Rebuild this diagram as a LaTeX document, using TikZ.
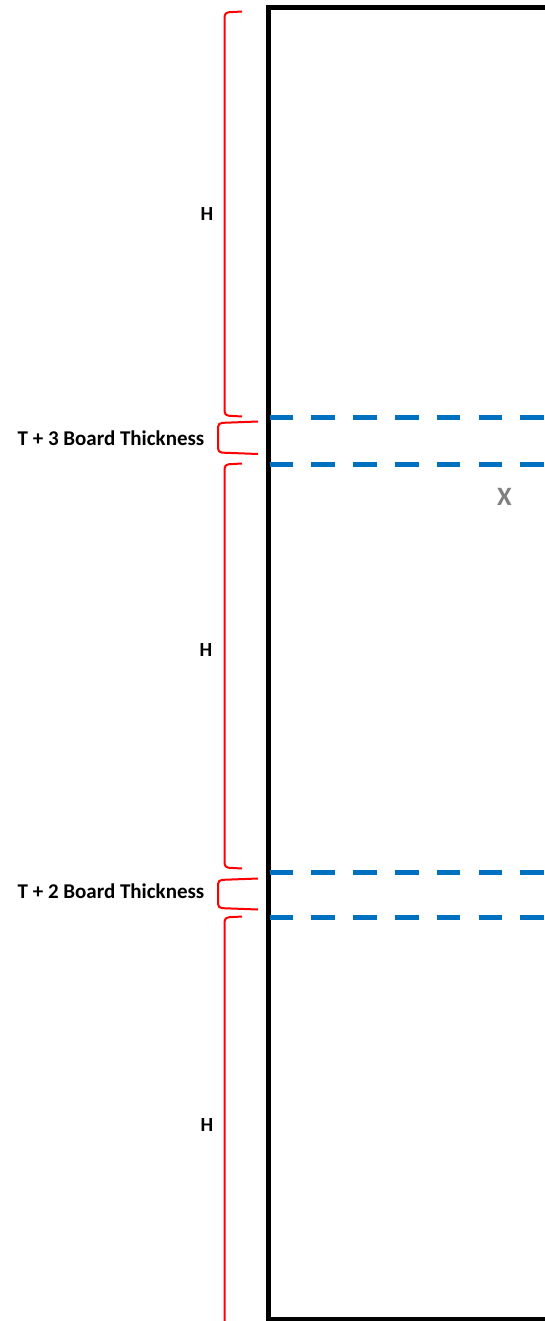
\documentclass[tikz,border=0pt]{standalone}
\usepackage{fontspec}
\setmainfont{Carlito}
\definecolor{dashblue}{HTML}{0070C0}
\definecolor{bracered}{HTML}{FF0000}
\definecolor{xgray}{HTML}{808080}
\tikzset{
  frame/.style={line width=5pt, black, miter limit=10},
  shelf/.style={line width=5pt, dashblue, dash pattern=on 23.7pt off 18.1pt},
  bracket/.style={line width=2pt, bracered, rounded corners=4pt},
  lbl/.style={inner sep=0pt, anchor=base, font=\fontsize{21}{24}\selectfont\bfseries},
  hlbl/.style={inner sep=0pt, anchor=base, font=\fontsize{20}{24}\selectfont\bfseries},
  xlbl/.style={inner sep=0pt, anchor=base, text=xgray, font=\fontsize{26.5}{30}\selectfont\bfseries}
}
\begin{document}
\begin{tikzpicture}[x=1pt,y=-1pt]
\useasboundingbox (0,0) rectangle (545,1321);
\clip (0,0) rectangle (545,1321);
% frame
\draw[frame] (548,7.7) -- (268.5,7.7) -- (268.5,1319) -- (548,1319);
% shelves
\coordinate (s1a) at (269.5,417); \coordinate (s1b) at (548,417);
\coordinate (s2a) at (269.5,464); \coordinate (s2b) at (548,464);
\coordinate (s3a) at (269.5,872); \coordinate (s3b) at (548,872);
\coordinate (s4a) at (269.5,917.5); \coordinate (s4b) at (548,917.5);
\draw[shelf] (s1a) -- (s1b);
\draw[shelf] (s2a) -- (s2b);
\draw[shelf] (s3a) -- (s3b);
\draw[shelf] (s4a) -- (s4b);
% brackets
\draw[bracket] (242,11.5) -- (224.5,12.5) -- (224.5,415.5) -- (242,416.5);
\draw[bracket] (258,421.5) -- (218,423) -- (218,452.5) -- (258,454);
\draw[bracket] (242,463.5) -- (224.5,464.5) -- (224.5,867.5) -- (242,868.5);
\draw[bracket] (258,878.5) -- (218,880) -- (218,908) -- (258,909.5);
\draw[bracket] (242,916.5) -- (224.5,917.5) -- (224.5,1330);
% labels
\node[hlbl] (h1) at (207,220.5) {H};
\node[hlbl] (h2) at (206,656.5) {H};
\node[hlbl] (h3) at (207,1131) {H};
\node[lbl] (t3) at (111,445) {T + 3 Board Thickness};
\node[lbl] (t2) at (111,898.5) {T + 2 Board Thickness};
\node[xlbl] (x) at (504.5,505) {X};
\end{tikzpicture}
\end{document}
